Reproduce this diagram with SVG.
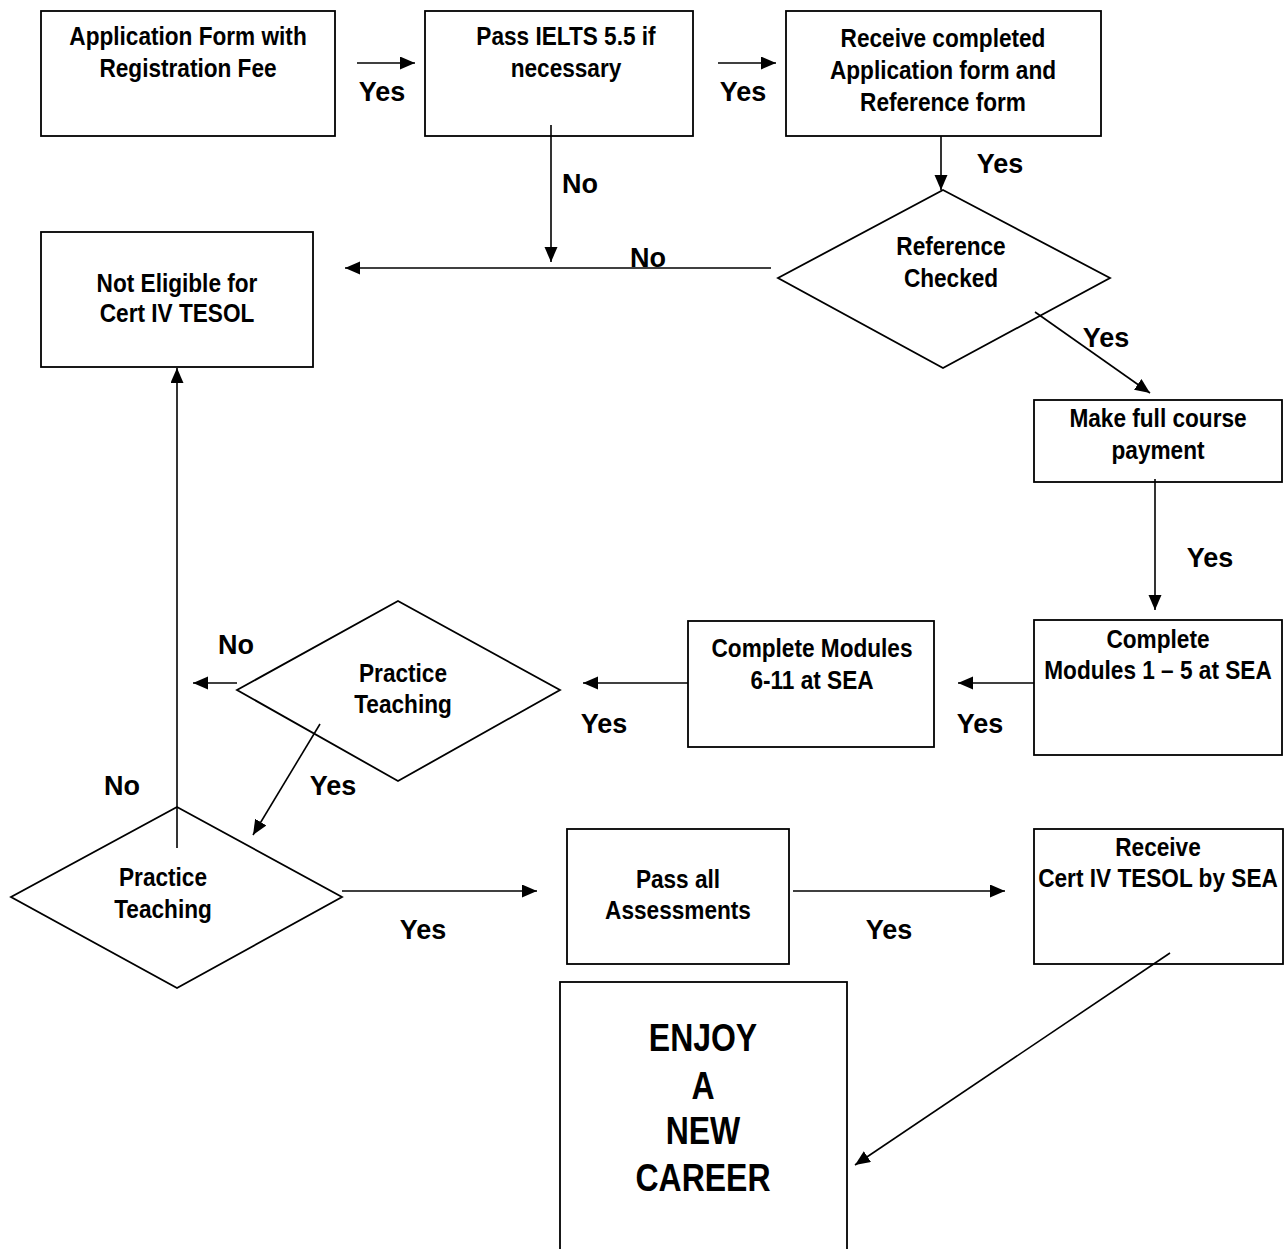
<svg xmlns="http://www.w3.org/2000/svg" width="1286" height="1249" viewBox="0 0 1286 1249">
<defs>
<marker id="ah" markerUnits="userSpaceOnUse" markerWidth="16" markerHeight="14" refX="15" refY="6.5" orient="auto">
<path d="M0,0 L15,6.5 L0,13 z" fill="#000"/>
</marker>
<style>
.n{fill:#fff;stroke:#000;stroke-width:1.8}
.d{fill:none;stroke:#000;stroke-width:1.8}
.c{fill:none;stroke:#000;stroke-width:1.6}
.a{marker-end:url(#ah)}
text{font-family:"Liberation Sans",Arial,sans-serif;font-weight:bold;font-size:26px;text-anchor:middle;fill:#000}
.lb{font-size:27px}
.big{font-size:39px}
</style>
</defs>
<rect width="1286" height="1249" fill="#fff"/>

<g id="n1">
<rect class="n" x="41" y="11" width="294" height="125"/>
<text transform="translate(188,45) scale(0.87,1)">Application Form with</text>
<text transform="translate(188,77) scale(0.87,1)">Registration Fee</text>
</g>
<g id="n2">
<rect class="n" x="425" y="11" width="268" height="125"/>
<text transform="translate(566,45) scale(0.87,1)">Pass IELTS 5.5 if</text>
<text transform="translate(566,77) scale(0.87,1)">necessary</text>
</g>
<g id="n3">
<rect class="n" x="786" y="11" width="315" height="125"/>
<text transform="translate(943,47) scale(0.87,1)">Receive completed</text>
<text transform="translate(943,79) scale(0.87,1)">Application form and</text>
<text transform="translate(943,111) scale(0.87,1)">Reference form</text>
</g>
<g id="n4">
<polygon class="d" points="943,190 1110,278 943,368 778,278"/>
<text transform="translate(951,255) scale(0.87,1)">Reference</text>
<text transform="translate(951,287) scale(0.87,1)">Checked</text>
</g>
<g id="n5">
<rect class="n" x="41" y="232" width="272" height="135"/>
<text transform="translate(177,292) scale(0.87,1)">Not Eligible for</text>
<text transform="translate(177,322) scale(0.87,1)">Cert IV TESOL</text>
</g>
<g id="n6">
<rect class="n" x="1034" y="400" width="248" height="82"/>
<text transform="translate(1158,427) scale(0.87,1)">Make full course</text>
<text transform="translate(1158,459) scale(0.87,1)">payment</text>
</g>
<g id="n7">
<rect class="n" x="1034" y="620" width="248" height="135"/>
<text transform="translate(1158,648) scale(0.87,1)">Complete</text>
<text transform="translate(1158,679) scale(0.87,1)">Modules 1 – 5 at SEA</text>
</g>
<g id="n8">
<rect class="n" x="688" y="621" width="246" height="126"/>
<text transform="translate(812,657) scale(0.87,1)">Complete Modules</text>
<text transform="translate(812,689) scale(0.87,1)">6-11 at SEA</text>
</g>
<g id="n9">
<polygon class="d" points="398,601 560,690 398,781 237,690"/>
<text transform="translate(403,682) scale(0.87,1)">Practice</text>
<text transform="translate(403,713) scale(0.87,1)">Teaching</text>
</g>
<g id="n10">
<polygon class="d" points="177,807 342,897 177,988 11,897"/>
<text transform="translate(163,886) scale(0.87,1)">Practice</text>
<text transform="translate(163,918) scale(0.87,1)">Teaching</text>
</g>
<g id="n11">
<rect class="n" x="567" y="829" width="222" height="135"/>
<text transform="translate(678,888) scale(0.87,1)">Pass all</text>
<text transform="translate(678,919) scale(0.87,1)">Assessments</text>
</g>
<g id="n12">
<rect class="n" x="1034" y="829" width="249" height="135"/>
<text transform="translate(1158,856) scale(0.87,1)">Receive</text>
<text transform="translate(1158,887) scale(0.87,1)">Cert IV TESOL by SEA</text>
</g>
<g id="n13">
<rect class="n" x="560" y="982" width="287" height="300"/>
<text class="big" transform="translate(703,1051) scale(0.82,1)">ENJOY</text>
<text class="big" transform="translate(703,1099) scale(0.82,1)">A</text>
<text class="big" transform="translate(703,1144) scale(0.82,1)">NEW</text>
<text class="big" transform="translate(703,1191) scale(0.82,1)">CAREER</text>
</g>

<g id="connectors">
<line class="c a" x1="357" y1="63" x2="415" y2="63"/>
<line class="c a" x1="718" y1="63" x2="776" y2="63"/>
<line class="c a" x1="941" y1="136" x2="941" y2="190"/>
<line class="c a" x1="551" y1="125" x2="551" y2="262"/>
<line class="c a" x1="771" y1="268" x2="345" y2="268"/>
<line class="c a" x1="1035" y1="312" x2="1150" y2="393"/>
<line class="c a" x1="1155" y1="479" x2="1155" y2="610"/>
<line class="c a" x1="1034" y1="683" x2="958" y2="683"/>
<line class="c a" x1="688" y1="683" x2="583" y2="683"/>
<line class="c a" x1="237" y1="683" x2="193" y2="683"/>
<line class="c a" x1="320" y1="724" x2="253" y2="835"/>
<line class="c a" x1="177" y1="848" x2="177" y2="368"/>
<line class="c a" x1="342" y1="891" x2="537" y2="891"/>
<line class="c a" x1="793" y1="891" x2="1005" y2="891"/>
<line class="c a" x1="1170" y1="953" x2="855" y2="1165"/>
<g id="labels">
<text class="lb" x="382" y="101">Yes</text>
<text class="lb" x="743" y="101">Yes</text>
<text class="lb" x="1000" y="173">Yes</text>
<text class="lb" x="580" y="193">No</text>
<text class="lb" x="648" y="267">No</text>
<text class="lb" x="1106" y="347">Yes</text>
<text class="lb" x="1210" y="567">Yes</text>
<text class="lb" x="980" y="733">Yes</text>
<text class="lb" x="604" y="733">Yes</text>
<text class="lb" x="236" y="654">No</text>
<text class="lb" x="333" y="795">Yes</text>
<text class="lb" x="122" y="795">No</text>
<text class="lb" x="423" y="939">Yes</text>
<text class="lb" x="889" y="939">Yes</text>
</g>
</g>
</svg>
